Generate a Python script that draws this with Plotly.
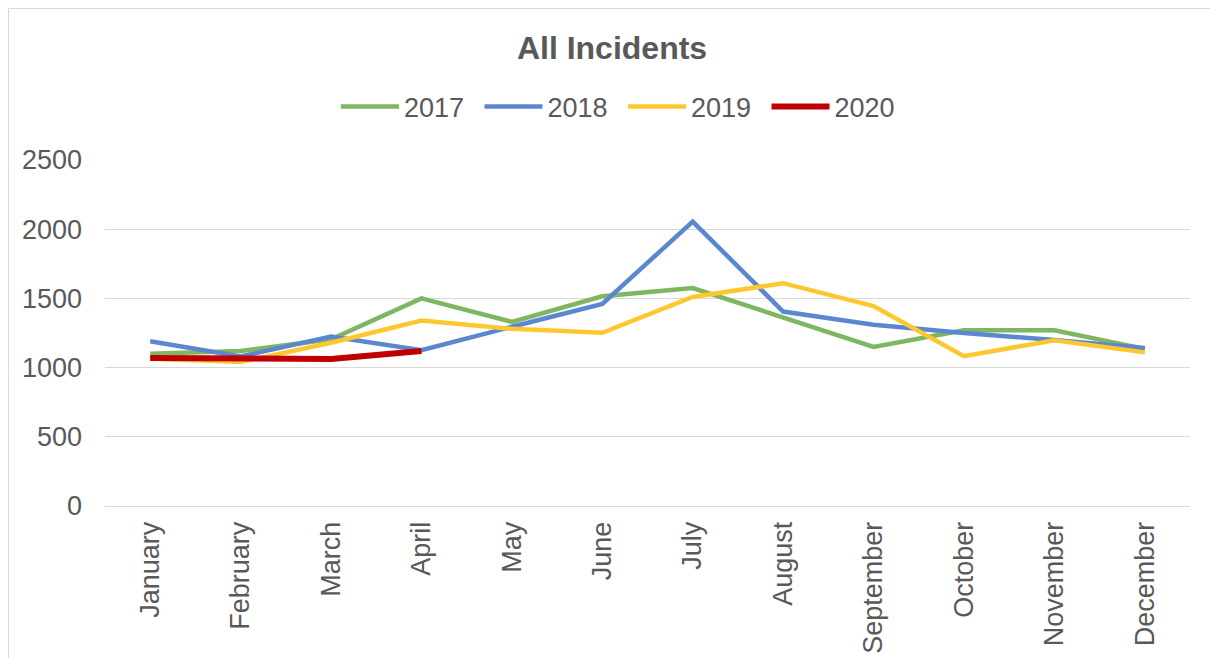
import plotly.graph_objects as go

months = ["January", "February", "March", "April", "May", "June", "July",
          "August", "September", "October", "November", "December"]
y2017 = [1100, 1120, 1205, 1500, 1330, 1515, 1575, 1360, 1150, 1270, 1270, 1135]
y2018 = [1190, 1080, 1225, 1125, 1295, 1460, 2055, 1405, 1310, 1250, 1200, 1142]
y2019 = [1065, 1040, 1180, 1340, 1280, 1252, 1510, 1610, 1445, 1082, 1198, 1110]
y2020 = [1070, 1068, 1062, 1120]

series = [
    ("2017", y2017, "#7fb661", 4.5),
    ("2018", y2018, "#5b87cf", 4.5),
    ("2019", y2019, "#fdc82f", 4.5),
    ("2020", y2020, "#c00000", 6),
]

fig = go.Figure()
for name, vals, color, w in series:
    fig.add_trace(go.Scatter(
        x=months[:len(vals)], y=vals, name=name, mode="lines",
        line=dict(color=color, width=w),
    ))

# page is offset by 8px body margin
W, H = 1202, 650
L, R, T, B = 97, 20, 152, 152
pw = W - L - R
ph = H - T - B

fig.update_layout(
    width=W, height=H,
    margin=dict(l=L, r=R, t=T, b=B, autoexpand=False),
    paper_bgcolor="white", plot_bgcolor="white",
    font=dict(family="Arial, Liberation Sans, sans-serif", size=27, color="#595959"),
    title=dict(text="<b>All Incidents</b>", x=604 / W, xref="container", xanchor="center",
               y=1 - 40 / H, yref="container", yanchor="middle",
               font=dict(size=32, color="#595959")),
    legend=dict(orientation="h", x=(623 - 8 - L) / pw, xanchor="center",
                y=(H - B - 99) / ph, yanchor="middle",
                font=dict(size=27, color="#595959"), itemwidth=58,
                entrywidth=70.5, entrywidthmode="pixels",
                bgcolor="rgba(0,0,0,0)"),
    showlegend=True,
    xaxis=dict(type="category", categoryorder="array", categoryarray=months,
               range=[-0.5, 11.5], tickangle=-90, showgrid=False,
               showline=True, linecolor="#d9d9d9", linewidth=1,
               ticks="", ticklabelstandoff=4, automargin=False,
               tickfont=dict(size=27, color="#595959")),
    yaxis=dict(range=[0, 2500], dtick=500, showgrid=True, gridcolor="#d9d9d9",
               gridwidth=1, zeroline=False, showline=False, ticks="",
               ticklabelstandoff=22, automargin=False,
               tickfont=dict(size=27, color="#595959")),
)

# outer chart border (left and top edges visible in the frame)
x_left = (0.5 - L) / pw
y_top = (H - B - 0.5) / ph
fig.add_shape(type="line", xref="paper", yref="paper",
              x0=x_left, x1=x_left, y0=(H - B - H - 20) / ph, y1=y_top,
              line=dict(color="#d9d9d9", width=1), layer="below")
fig.add_shape(type="line", xref="paper", yref="paper",
              x0=x_left, x1=(W + 20 - L) / pw, y0=y_top, y1=y_top,
              line=dict(color="#d9d9d9", width=1), layer="below")

fig.write_html("out.html")
